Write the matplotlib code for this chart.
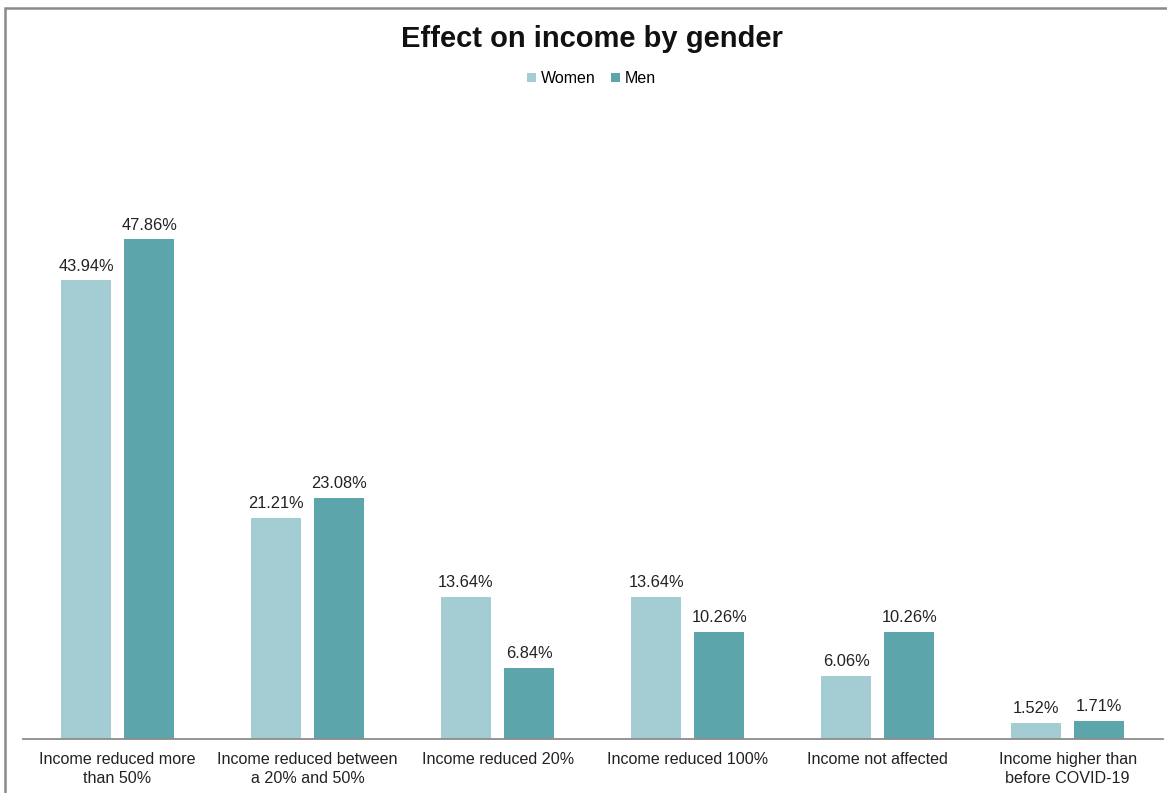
import numpy as np
import matplotlib.pyplot as plt
from matplotlib.patches import Rectangle

plt.rcParams['font.family'] = ['Liberation Sans', 'DejaVu Sans']

categories = ['Income reduced more\nthan 50%', 'Income reduced between\na 20% and 50%',
              'Income reduced 20%', 'Income reduced 100%', 'Income not affected',
              'Income higher than\nbefore COVID-19']
women = [43.94, 21.21, 13.64, 13.64, 6.06, 1.52]
men = [47.86, 23.08, 6.84, 10.26, 10.26, 1.71]

women_color = '#a3cdd3'
men_color = '#5ca5ab'

fig = plt.figure(figsize=(11.67, 7.93), dpi=100)
ax = fig.add_axes([0.0193, 0.068, 0.977, 0.79])

x = np.arange(len(categories))
w = 0.263
off = 0.166
b1 = ax.bar(x - off, women, w, color=women_color, label='Women')
b2 = ax.bar(x + off, men, w, color=men_color, label='Men')

for bars, vals in ((b1, women), (b2, men)):
    for b, v in zip(bars, vals):
        ax.text(b.get_x() + b.get_width() / 2, v + 0.65, f'{v:.2f}%',
                ha='center', va='bottom', fontsize=11.8, color='#222222')

ax.set_xlim(-0.5, 5.5)
ax.set_ylim(0, 60)
ax.set_xticks(x)
ax.set_xticklabels(categories, fontsize=11.6, color='#222222', linespacing=1.4)
ax.tick_params(axis='x', length=0, pad=9)
ax.set_yticks([])
for s in ['top', 'right', 'left']:
    ax.spines[s].set_visible(False)
ax.spines['bottom'].set_color('#8c8c8c')
ax.spines['bottom'].set_linewidth(1.3)

fig.text(0.507, 0.951, 'Effect on income by gender', ha='center', va='center',
         fontsize=21, fontweight='bold', color='#111111')
fig.legend(loc='center', bbox_to_anchor=(0.507, 0.901), ncol=2, frameon=False,
           fontsize=11.5, handlelength=0.55, handleheight=0.55, handletextpad=0.3,
           columnspacing=1.0)

fig.patches.append(Rectangle((4.5 / 1167, -0.05), 1.2, 1.05 - 8 / 793,
                             transform=fig.transFigure, fill=False,
                             edgecolor='#8a8a8a', linewidth=1.8))

fig.savefig('out.png', dpi=100)
